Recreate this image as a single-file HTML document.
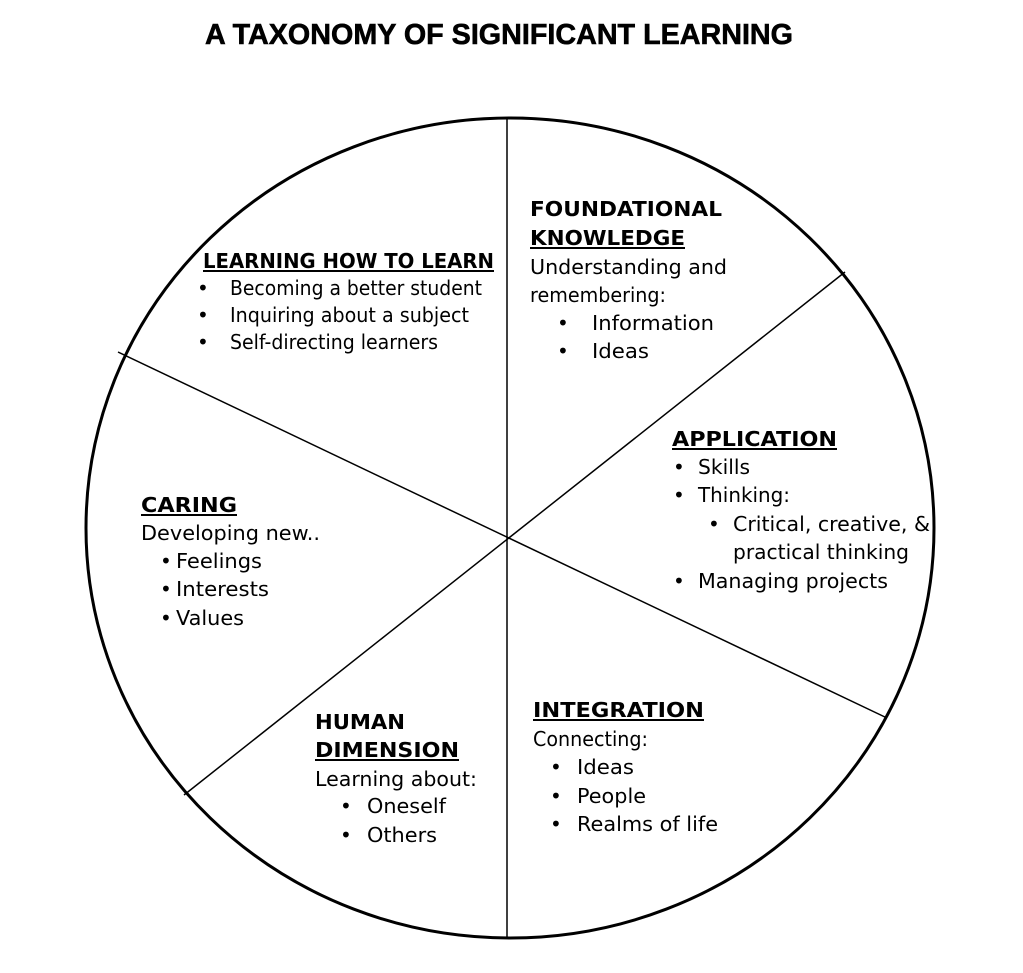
<!DOCTYPE html>
<html><head><meta charset="utf-8"><style>
html,body{margin:0;padding:0;background:#fff;}
svg{display:block;}
text{font-family:"DejaVu Sans","Liberation Sans",sans-serif;font-size:20px;fill:#000;}
.b{font-weight:bold;}
</style></head><body>
<svg width="1023" height="973" viewBox="0 0 1023 973">
<text class="b" x="205" y="44" style="font-size:29px;font-family:'Liberation Sans',sans-serif" textLength="588" lengthAdjust="spacingAndGlyphs" stroke="#000" stroke-width="0.6">A TAXONOMY OF SIGNIFICANT LEARNING</text>
<ellipse cx="510" cy="528" rx="424" ry="410" fill="none" stroke="#000" stroke-width="3"/>
<line x1="507" y1="118" x2="507" y2="937" stroke="#000" stroke-width="1.5"/>
<line x1="118" y1="352" x2="887" y2="718" stroke="#000" stroke-width="1.5"/>
<line x1="845" y1="272" x2="184" y2="795" stroke="#000" stroke-width="1.5"/>

<g>
<text class="b" x="530" y="216" textLength="192" lengthAdjust="spacingAndGlyphs">FOUNDATIONAL</text>
<text class="b" x="530" y="245" textLength="155" lengthAdjust="spacingAndGlyphs">KNOWLEDGE</text>
<line x1="530" y1="248" x2="685" y2="248" stroke="#000" stroke-width="2"/>
<text x="530" y="274" textLength="197" lengthAdjust="spacingAndGlyphs">Understanding and</text>
<text x="530" y="302" textLength="136" lengthAdjust="spacingAndGlyphs">remembering:</text>
<text x="557" y="330">•</text><text x="592" y="330" textLength="122" lengthAdjust="spacingAndGlyphs">Information</text>
<text x="557" y="358">•</text><text x="592" y="358" textLength="57" lengthAdjust="spacingAndGlyphs">Ideas</text>
</g>

<g>
<text class="b" x="203" y="268" textLength="291" lengthAdjust="spacingAndGlyphs">LEARNING HOW TO LEARN</text>
<line x1="203" y1="271" x2="494" y2="271" stroke="#000" stroke-width="2"/>
<text x="197" y="295">•</text><text x="230" y="295" textLength="252" lengthAdjust="spacingAndGlyphs">Becoming a better student</text>
<text x="197" y="322">•</text><text x="230" y="322" textLength="239" lengthAdjust="spacingAndGlyphs">Inquiring about a subject</text>
<text x="197" y="349">•</text><text x="230" y="349" textLength="208" lengthAdjust="spacingAndGlyphs">Self-directing learners</text>
</g>

<g>
<text class="b" x="672" y="446" textLength="165" lengthAdjust="spacingAndGlyphs">APPLICATION</text>
<line x1="672" y1="449" x2="837" y2="449" stroke="#000" stroke-width="2"/>
<text x="673" y="474">•</text><text x="698" y="474" textLength="52" lengthAdjust="spacingAndGlyphs">Skills</text>
<text x="673" y="502">•</text><text x="698" y="502" textLength="92" lengthAdjust="spacingAndGlyphs">Thinking:</text>
<text x="708" y="531">•</text><text x="733" y="531" textLength="197" lengthAdjust="spacingAndGlyphs">Critical, creative, &amp;</text>
<text x="733" y="559" textLength="176" lengthAdjust="spacingAndGlyphs">practical thinking</text>
<text x="673" y="588">•</text><text x="698" y="588" textLength="190" lengthAdjust="spacingAndGlyphs">Managing projects</text>
</g>

<g>
<text class="b" x="141" y="512" textLength="96" lengthAdjust="spacingAndGlyphs">CARING</text>
<line x1="141" y1="515" x2="237" y2="515" stroke="#000" stroke-width="2"/>
<text x="141" y="540" textLength="179" lengthAdjust="spacingAndGlyphs">Developing new..</text>
<text x="160" y="568">•</text><text x="176" y="568" textLength="86" lengthAdjust="spacingAndGlyphs">Feelings</text>
<text x="160" y="596">•</text><text x="176" y="596" textLength="93" lengthAdjust="spacingAndGlyphs">Interests</text>
<text x="160" y="625">•</text><text x="176" y="625" textLength="68" lengthAdjust="spacingAndGlyphs">Values</text>
</g>

<g>
<text class="b" x="315" y="729" textLength="90" lengthAdjust="spacingAndGlyphs">HUMAN</text>
<text class="b" x="315" y="757" textLength="144" lengthAdjust="spacingAndGlyphs">DIMENSION</text>
<line x1="315" y1="760" x2="459" y2="760" stroke="#000" stroke-width="2"/>
<text x="315" y="786" textLength="162" lengthAdjust="spacingAndGlyphs">Learning about:</text>
<text x="340" y="813">•</text><text x="367" y="813" textLength="79" lengthAdjust="spacingAndGlyphs">Oneself</text>
<text x="340" y="842">•</text><text x="367" y="842" textLength="70" lengthAdjust="spacingAndGlyphs">Others</text>
</g>

<g>
<text class="b" x="533" y="717" textLength="171" lengthAdjust="spacingAndGlyphs">INTEGRATION</text>
<line x1="533" y1="720" x2="704" y2="720" stroke="#000" stroke-width="2"/>
<text x="533" y="746" textLength="115" lengthAdjust="spacingAndGlyphs">Connecting:</text>
<text x="550" y="774">•</text><text x="577" y="774" textLength="57" lengthAdjust="spacingAndGlyphs">Ideas</text>
<text x="550" y="803">•</text><text x="577" y="803" textLength="69" lengthAdjust="spacingAndGlyphs">People</text>
<text x="550" y="831">•</text><text x="577" y="831" textLength="141" lengthAdjust="spacingAndGlyphs">Realms of life</text>
</g>
</svg>
</body></html>
